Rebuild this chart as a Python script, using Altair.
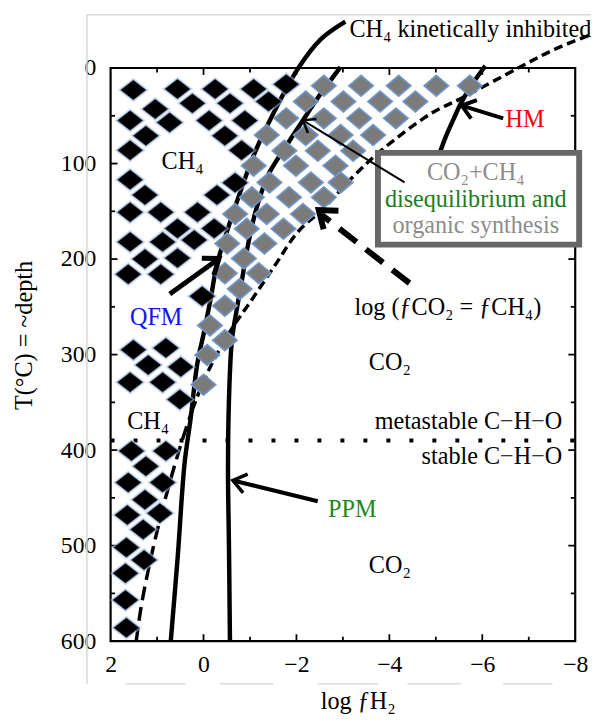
import math
import altair as alt
import pandas as pd

FONT = "Liberation Serif"
FS = 24.5
PXX = 47.1     # px per log unit (layout constant)
PXT = 0.9683   # px per degC (layout constant)

# ---------------- curves (log fH2, T in degC) ----------------
qfm_x = [0.705, 0.556, 0.408, 0.280, 0.132, -0.017, -0.144, -0.293, -0.505, -0.824, -1.100, -1.503, -2.055, -2.522, -3.053]
qfm_T = [600, 512, 414, 368, 309, 275, 244, 205, 171, 125, 89, 47.5, -1, -30, -48.5]

ppm_x = [-0.569, -0.548, -0.527, -0.548, -0.611, -0.718, -0.824, -0.930, -1.100, -1.248, -1.418, -1.779, -2.140, -2.480, -2.947]
ppm_T = [600, 502, 419, 347, 285, 252, 223, 192, 154, 130, 109.5, 81.6, 54.7, 29.9, -1]

eq_low_x = [1.448, 1.342, 1.130, 0.875, 0.641, 0.450, 0.238]
eq_low_T = [600, 563.9, 512.2, 460.6, 419.3, 388.3, 357.3]
eq_high_x = [0.238, -0.017, -0.335, -0.654, -0.994, -1.524, -2.034, -2.565, -3.265, -3.839, -4.900, -5.537, -6.811, -7.512, -8.340]
eq_high_T = [357.3, 326.3, 295.4, 269.5, 245.8, 207.6, 171.4, 147.7, 111.5, 85.7, 47.5, 32, -1, -18.6, -35.1]

hm_x = [-5.070, -5.219, -5.389, -5.537, -5.749, -5.983, -6.068]
hm_T = [90.9, 71.3, 52.7, 37.2, 19.6, 3.1, -2.1]

meta_T = 390
meta_x = [2, -8.34]

# ---------------- diamonds ----------------
black_x = [1.51, 0.56, -0.25, -1.08, -1.78, 1.04, 0.24, -0.57, -1.40, 1.58, 0.73, -0.12, -0.89,
           1.24, -0.46, 1.58, -0.82, 1.58, -0.68, -0.29, 1.26, 1.58, 0.92, 0.13, 0.56, -0.23,
           1.58, 0.88, 0.20, 1.26, 0.56, 1.62, 0.92, 0.03, 1.51, 0.81, 1.19, 0.49, 1.58, 0.88,
           0.51, 1.55, 0.81, 1.24, 1.62, 0.88, 1.26, 1.64, 0.94, 1.30, 1.66, 1.28, 1.68, 1.68, 1.66]
black_T = [23, 22, 22, 22, 17, 43, 37, 37, 35, 55, 57, 55, 55,
           71, 71, 86, 86, 117, 120, 133, 133, 151, 151, 151, 168, 168,
           182, 182, 180, 200, 199, 216, 216, 239, 295, 293, 311, 313, 329, 329,
           347, 401, 401, 417, 434, 434, 452, 468, 466, 483, 502, 515, 529, 557, 586]

gray_x = [-2.59, -3.39, -4.20, -5.01, -5.73,
          -2.20, -3.01, -3.80, -4.56,
          -1.78, -2.59, -3.35, -4.14,
          -1.36, -2.20, -2.95, -3.65,
          -1.74, -2.46, -3.22,
          -1.08, -1.99, -2.84,
          -1.42, -2.31, -2.95,
          -1.04, -1.84, -2.59,
          -0.68, -1.36, -2.14,
          -0.93, -1.72,
          -0.51, -1.31,
          -0.87,
          -0.46, -1.19,
          -0.78, -0.46, -0.14, -0.46, -0.08, 0.00]
gray_T = [18.6, 18.6, 18.6, 18.6, 18.6,
          35.1, 35.1, 35.1, 35.1,
          52.7, 52.7, 52.7, 52.7,
          70.2, 70.2, 70.2, 70.2,
          86.7, 86.7, 86.7,
          102.2, 102.2, 102.2,
          119.8, 119.8, 119.8,
          135.3, 135.3, 135.3,
          152.8, 152.8, 152.8,
          168.3, 168.3,
          183.8, 183.8,
          199.3,
          214.8, 214.8,
          231.3, 248.9, 269.5, 285.0, 300.5, 331.5]

# ---------------- arrows (tail -> tip) ----------------
arr_x1 = [0.726, -2.459, -6.45, -4.327]
arr_T1 = [236.6, 453.5, 52.7, 119.8]
arr_x2 = [-0.335, -0.633, -5.558, -2.140]
arr_T2 = [199.4, 431.8, 39.3, 54.8]
arr_w = [5, 4, 4, 2]
dash_arr_x = [-4.433, -2.55]
dash_arr_T = [225.2, 154.0]
dash_tip = (-2.48, 148.8)

# ---------------- box ----------------
box_x = [-3.754, -8.085]
box_T = [88.8, 184.9]

# ---------------- ticks ----------------
t_major = [100, 200, 300, 400, 500]
t_minor = [50, 150, 250, 350, 450, 550]
x_major = [0, -2, -4, -6]
x_minor = [1, -1, -3, -5, -7]
y_labels = [0, 100, 200, 300, 400, 500, 600]
x_labels = [2, 0, -2, -4, -6, -8]

# ---------------- text ----------------
center_txt = ["CH₄", "CH₄", "QFM", "HM", "CO₂+CH₄", "disequilibrium and", "organic synthesis",
              "log (ƒCO₂ = ƒCH₄)", "CO₂", "PPM", "CO₂", "log ƒH₂"]
center_x = [0.45, 1.19, 1.02, -6.92, -5.86, -5.86, -5.86, -5.26, -4.01, -3.20, -4.01, -3.33]
center_T = [99, 371, 262, 55, 109.5, 138.4, 165.3, 251, 309, 463, 521, 664]
center_col = ["black", "black", "#1414f0", "#ff0000", "#8c8c8c", "#1c7d1c", "#8c8c8c",
              "black", "black", "#1c8a1c", "black", "black"]

# ---------------- helpers ----------------
XS = alt.Scale(domain=[2, -8], nice=False, zero=False)
YS = alt.Scale(domain=[0, 600], reverse=True, nice=False, zero=False)
XAX = alt.Axis(values=x_labels, title=None, grid=False, domain=False, ticks=False, tickSize=0,
               labelPadding=12, labelFlush=False, labelOverlap=False, labelBound=False, format="d",
               labelFont=FONT, labelFontSize=24, labelColor="black")
YAX = alt.Axis(values=y_labels, title=None, grid=False, domain=False, ticks=False, tickSize=0,
               labelPadding=15, labelFlush=False, labelOverlap=False, labelBound=False, format="d",
               labelFont=FONT, labelFontSize=24, labelColor="black")


def X(f="x"):
    return alt.X(f"{f}:Q", scale=XS, axis=XAX)


def Y(f="T"):
    return alt.Y(f"{f}:Q", scale=YS, axis=YAX)


def curve(xs, ts, **kw):
    df = pd.DataFrame({"x": xs, "T": ts, "i": range(len(xs))})
    return alt.Chart(df).mark_line(interpolate="catmull-rom", color="black", **kw).encode(
        x=X(), y=Y(), order="i:Q")


layers = []

# decorative light scan frame
deco = pd.DataFrame({
    "x": [2.51, 2.51, 1.68, -0.357, -2.459, -4.391, -6.45],
    "x2": [-8.34, 2.51, 0.386, -1.503, -3.754, -5.537, -7.51],
    "y": [-55.8, -55.8, 644.6, 644.6, 644.6, 644.6, 644.6],
    "y2": [-55.8, 644.6, 644.6, 644.6, 644.6, 644.6, 644.6],
})
layers.append(alt.Chart(deco).mark_rule(color="#d9d9d9", strokeWidth=1.6).encode(
    x=X(), y=Y("y"), x2="x2:Q", y2="y2:Q"))

# ticks (inward)
rows = []
for t in t_major + t_minor:
    L = 7 if t in t_major else 4.5
    rows.append(dict(x=2, x2=2 - L / PXX, y=t, y2=t))
    rows.append(dict(x=-8, x2=-8 + L / PXX, y=t, y2=t))
for v in x_major + x_minor:
    L = 7 if v in x_major else 4.5
    rows.append(dict(x=v, x2=v, y=0, y2=L / PXT))
    rows.append(dict(x=v, x2=v, y=600, y2=600 - L / PXT))
layers.append(alt.Chart(pd.DataFrame(rows)).mark_rule(color="black", strokeWidth=1.8).encode(
    x=X(), y=Y("y"), x2="x2:Q", y2="y2:Q"))

# curves
layers.append(curve(ppm_x, ppm_T, strokeWidth=4.5))
layers.append(curve(qfm_x, qfm_T, strokeWidth=4.5))
layers.append(curve(eq_low_x, eq_low_T, strokeWidth=3.5, strokeDash=[14, 7]))
layers.append(curve(eq_high_x, eq_high_T, strokeWidth=3.5, strokeDash=[9, 5]))
layers.append(curve(hm_x, hm_T, strokeWidth=4.5))

# dotted metastable / stable line
layers.append(alt.Chart(pd.DataFrame({"x": [meta_x[0]], "x2": [meta_x[1]], "T": [meta_T]})).mark_rule(
    color="black", strokeWidth=4, strokeDash=[4, 19.3], strokeCap="butt").encode(x=X(), x2="x2:Q", y=Y()))

# diamonds
BPATH = "M-1,0L0,-0.78L1,0L0,0.78Z"
GPATH = "M-1,0L0,-0.85L1,0L0,0.85Z"
bdf = pd.DataFrame({"x": black_x, "T": black_T})
gdf = pd.DataFrame({"x": gray_x, "T": gray_T})
layers.append(alt.Chart(bdf).mark_point(shape=BPATH, filled=True, color="#a9bedc", opacity=0.5,
                                        size=1000).encode(x=X(), y=Y()))
layers.append(alt.Chart(bdf).mark_point(shape=BPATH, filled=True, color="#5d7fb4", opacity=0.6,
                                        size=780).encode(x=X(), y=Y()))
layers.append(alt.Chart(bdf).mark_point(shape=BPATH, filled=True, color="black", opacity=1,
                                        size=640).encode(x=X(), y=Y()))
layers.append(alt.Chart(gdf).mark_point(shape=GPATH, filled=True, fill="#7b7b7b", stroke="#6f97cc",
                                        strokeWidth=1.6, opacity=1, size=620).encode(x=X(), y=Y()))

# box
layers.append(alt.Chart(pd.DataFrame({"x": [box_x[0]], "x2": [box_x[1]], "T": [box_T[0]], "T2": [box_T[1]]}))
              .mark_rect(fill="white", stroke="#676767", strokeWidth=6)
              .encode(x=X(), x2="x2:Q", y=Y(), y2="T2:Q"))

# arrow shafts
adf = pd.DataFrame({"x": arr_x1, "T": arr_T1, "x2": arr_x2, "T2": arr_T2, "w": arr_w})
layers.append(alt.Chart(adf).mark_rule(color="black", strokeCap="butt").encode(
    x=X(), y=Y(), x2="x2:Q", y2="T2:Q", strokeWidth=alt.StrokeWidth("w:Q", scale=None, legend=None)))
layers.append(alt.Chart(pd.DataFrame({"x": [dash_arr_x[0]], "T": [dash_arr_T[0]], "x2": [dash_arr_x[1]],
                                      "T2": [dash_arr_T[1]]}))
              .mark_rule(color="black", strokeWidth=6, strokeDash=[22, 12], strokeCap="butt")
              .encode(x=X(), y=Y(), x2="x2:Q", y2="T2:Q"))

# arrow heads (open chevrons), oriented along each arrow
hx, hT, ha, hs, hw = [], [], [], [], []
heads = list(zip(arr_x1, arr_T1, arr_x2, arr_T2, [14, 13, 13, 11], [5, 3.5, 4, 2.5]))
heads.append((dash_arr_x[0], dash_arr_T[0], dash_tip[0], dash_tip[1], 16, 6))
for x1, t1, x2, t2, L, w in heads:
    dx = -(x2 - x1) * PXX
    dy = (t2 - t1) * PXT
    hx.append(x2)
    hT.append(t2)
    ha.append(math.degrees(math.atan2(dy, dx)) % 360)
    hs.append((2 * L) ** 2)
    hw.append(w)
hdf = pd.DataFrame({"x": hx, "T": hT, "ang": ha, "sz": hs, "w": hw})
CHEV = "M-1,-0.75L0,0L-1,0.75"
layers.append(alt.Chart(hdf).mark_point(shape=CHEV, filled=False, color="black", opacity=1,
                                        strokeJoin="miter", strokeCap="butt").encode(
    x=X(), y=Y(),
    angle=alt.Angle("ang:Q", scale=None),
    size=alt.Size("sz:Q", scale=None, legend=None),
    strokeWidth=alt.StrokeWidth("w:Q", scale=None, legend=None)))

# texts
cdf = pd.DataFrame({"x": center_x, "T": center_T, "t": center_txt, "c": center_col})
layers.append(alt.Chart(cdf).mark_text(font=FONT, fontSize=FS, align="center", baseline="middle").encode(
    x=X(), y=Y(), text="t:N", color=alt.Color("c:N", scale=None, legend=None)))
layers.append(alt.Chart(pd.DataFrame({"x": [-3.14], "T": [-40], "t": ["CH₄ kinetically inhibited"]}))
              .mark_text(font=FONT, fontSize=FS, align="left", baseline="middle", color="black")
              .encode(x=X(), y=Y(), text="t:N"))
layers.append(alt.Chart(pd.DataFrame({"x": [-7.72, -7.72], "T": [371, 407],
                                      "t": ["metastable C−H−O", "stable C−H−O"]}))
              .mark_text(font=FONT, fontSize=FS, align="right", baseline="middle", color="black")
              .encode(x=X(), y=Y(), text="t:N"))
layers.append(alt.Chart(pd.DataFrame({"x": [3.85], "T": [280], "t": ["T(°C) = ~depth"]}))
              .mark_text(font=FONT, fontSize=FS, align="center", baseline="middle", angle=270, color="black")
              .encode(x=X(), y=Y(), text="t:N"))

chart = alt.layer(*layers).properties(
    width=471, height=581,
    padding={"left": 104, "top": 56, "right": 16, "bottom": 70},
    autosize=alt.AutoSizeParams(type="none"),
    background="white",
).configure_view(stroke="black", strokeWidth=2.2)

chart.save("out.html", embed_options={"renderer": "svg", "actions": False})
